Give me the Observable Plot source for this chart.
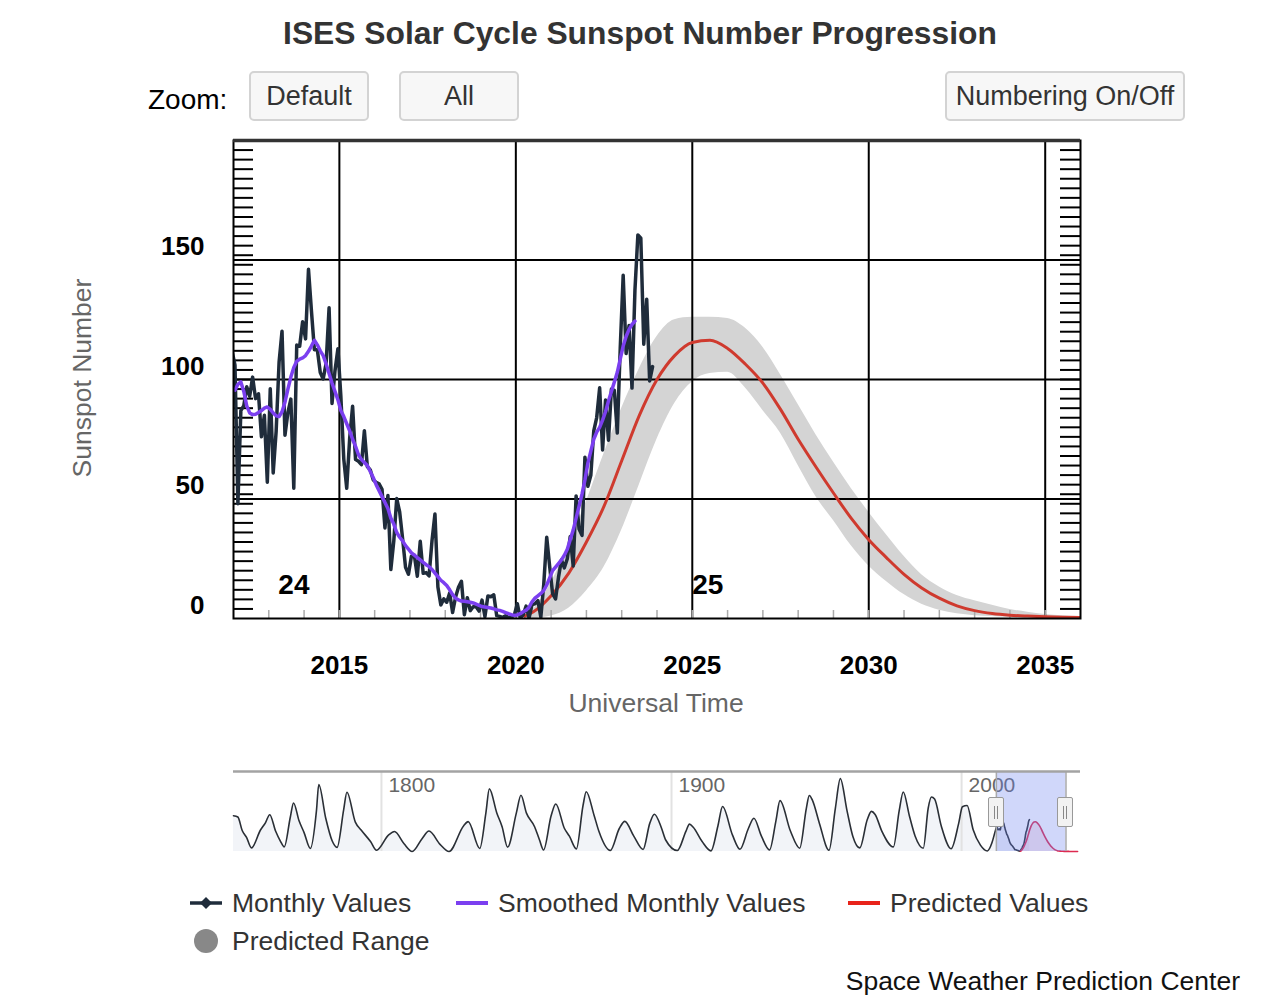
<!DOCTYPE html>
<html><head><meta charset="utf-8">
<script src="https://cdn.jsdelivr.net/npm/d3@7"></script>
<script src="https://cdn.jsdelivr.net/npm/@observablehq/plot@0.6"></script>
<style>
body{margin:0;background:#fff;font-family:"Liberation Sans",Arial,Helvetica,sans-serif;}
#root{position:relative;width:1280px;height:1000px;overflow:hidden;background:#fff;}
.abs{position:absolute;white-space:nowrap;z-index:3;}
.btn{position:absolute;box-sizing:border-box;border:2px solid #d3d3d3;border-radius:5px;background:#f7f7f7;color:#333;font-size:27px;display:flex;align-items:center;justify-content:center;z-index:3;}
.chart{position:absolute;left:0;z-index:1;}
.handle{position:absolute;width:16px;height:30px;box-sizing:border-box;border:1.5px solid #999;border-radius:2px;background:#f2f2f2;z-index:4;}
.handle i{position:absolute;top:8px;width:1px;height:13px;background:#888;}
.leg{position:absolute;font-size:26.5px;color:#333;line-height:32px;white-space:nowrap;z-index:3;}
</style>
</head><body><div id="root"></div>
<script>
// ---------- DATA ----------
// Monthly sunspot numbers, first value = Dec 2011, then Jan 2012 .. Nov 2023
const monthlyStart = 2011 + 11 / 12;
const monthlyValues = [
  112,
  106, 48, 87, 89, 97, 93, 101, 92, 94, 76, 85, 57,
  96.1, 60.9, 78.3, 107.3, 120.2, 76.7, 86.2, 91.8, 54.5, 114.4, 113.9, 124.2,
  117.0, 146.1, 128.7, 112.5, 112.5, 102.9, 100.2, 106.9, 130.0, 90.0, 103.6, 112.9,
  93.0, 66.7, 54.5, 75.3, 88.8, 66.5, 65.8, 64.4, 78.6, 63.6, 62.2, 58.0,
  57.0, 56.4, 54.1, 37.9, 51.5, 20.5, 32.4, 50.2, 44.6, 33.4, 21.4, 18.5,
  26.1, 26.4, 17.7, 32.3, 18.9, 19.2, 17.8, 32.6, 43.7, 13.2, 5.7, 8.2,
  6.8, 10.7, 2.5, 8.9, 13.1, 15.6, 1.6, 8.7, 3.3, 4.9, 4.9, 3.1,
  7.7, 0.8, 9.4, 9.1, 9.9, 1.2, 0.9, 0.5, 1.1, 0.4, 0.5, 1.5,
  6.2, 0.2, 1.5, 5.2, 0.2, 5.8, 6.1, 7.5, 0.6, 14.4, 34.0, 21.8,
  10.4, 8.2, 17.2, 24.5, 21.2, 25.0, 34.3, 22.0, 51.3, 37.4, 34.8, 67.5,
  55.3, 59.9, 78.5, 84.1, 96.5, 70.5, 91.4, 74.6, 96.0, 95.5, 77.6, 113.1,
  143.6, 110.9, 122.6, 96.4, 137.4, 160.5, 159.1, 114.8, 133.6, 99.4, 105.4
];
// Smoothed monthly values, Jan 2012 .. May 2023
const smoothedStart = 2012;
const smoothedValues = [
  95.5, 98, 99, 95, 89, 86, 85.3, 85.5, 86.2, 87, 88, 88.5,
  87.5, 86, 84.8, 84.5, 86.5, 90.5, 96, 101, 105, 107.6, 108.5, 109,
  110, 111.8, 114, 116.4, 114.5, 112, 110, 106.5, 102.5, 98.5, 95, 91.5,
  87, 84.5, 81.5, 78.5, 75, 72, 68.5, 66.5, 65.3, 64, 61.5, 59,
  56, 53.5, 51, 48.5, 46, 42, 39.5, 36, 34, 32.5, 30.5, 29,
  27.5, 26.5, 25.5, 24.5, 23.5, 22.5, 21.7, 20.5, 19, 17.5, 16, 15,
  13.8, 12, 10, 8.5, 7.8, 7.3, 7.2, 7, 6.8, 6.5, 6, 5.5,
  5, 4.8, 4.6, 4.4, 4, 3.6, 3.4, 3, 2.5, 2, 1.6, 1.3,
  1.5, 2, 2.8, 3.5, 4.7, 7, 8.5, 9.5, 10.5, 11.7, 14, 17,
  20, 21.5, 23, 24.5, 26.5, 29, 33, 37, 42, 47, 52, 58,
  65, 70, 75, 78, 80, 83, 86.5, 91, 95, 99, 103, 108.5,
  114, 118, 121, 123, 124.4
];
// Predicted values and range
const predYears = [2020.25, 2020.5, 2021, 2021.5, 2022, 2022.5, 2023, 2023.5, 2024, 2024.5, 2025, 2025.5, 2026, 2026.5, 2027, 2027.5, 2028, 2028.5, 2029, 2029.5, 2030, 2030.5, 2031, 2031.5, 2032, 2032.5, 2033, 2033.5, 2034, 2034.5, 2035, 2035.5, 2036, 2037, 2038, 2040];
const predValues = [1.0, 2.8, 9.5, 19, 32, 47, 66, 85, 100, 110, 115.5, 116.4, 113, 106.5, 98.5, 87.5, 75, 63.5, 52.5, 42, 33, 25.5, 18.5, 12.8, 8.5, 5.3, 3.3, 2.1, 1.4, 1.0, 0.7, 0.5, 0.4, 0.3, 0.2, 0.2];
const predHigh = [1.5, 4, 15, 31, 49, 69, 88, 104.5, 118, 125, 126, 126, 125.5, 121.5, 113.5, 102, 89.5, 77, 65.5, 54.5, 44.5, 35, 26, 18.3, 13.2, 9.6, 7.4, 5.5, 3.8, 2.6, 1.7, 1.1, 0.8, 0.5, 0.3, 0.3];
const predLow = [0, 0, 1, 4.3, 11.5, 21.5, 37, 56, 75, 90, 99, 102.5, 103, 96.5, 87, 77.5, 64, 51, 41, 30.5, 22, 15.5, 10, 6, 3.5, 2, 1.2, 0.8, 0.5, 0.3, 0.2, 0.1, 0.1, 0.1, 0.1, 0.1];
// Axis ticks and labels
const xTickYears = [2015, 2020, 2025, 2030, 2035];
const yTickValues = [0, 50, 100, 150];
const yDomain = [0, 200];
const xDomain = [2012, 2036];
const rulerStep = 4;
const cycleNumbers = ["24", "25"];
const cycleLabelYears = [2013.27, 2025.0];
const cycleLabelValues = [14, 14];
// Navigator: smoothed history (cycle minima / maxima and shoulders) before 2012
const navHistYears = [1749.0,1750.5,1752.0,1753.5,1755.2,1758.3,1760.0,1761.5,1763.5,1765.2,1766.5,1768.6,1769.7,1771.6,1773.3,1775.5,1777.6,1778.4,1780.8,1783.0,1784.7,1787.0,1788.1,1791.0,1793.0,1796.3,1798.3,1802.5,1804.5,1807.8,1810.6,1814.0,1816.4,1820.2,1823.3,1828.3,1829.9,1833.9,1836.0,1837.2,1839.8,1841.6,1843.5,1846.5,1848.1,1850.0,1852.8,1854.5,1855.9,1858.5,1860.1,1863.1,1864.8,1867.2,1869.5,1870.6,1873.3,1875.0,1878.9,1882.0,1883.9,1887.0,1890.2,1892.5,1894.1,1896.6,1898.0,1902.0,1905.0,1906.2,1907.5,1910.5,1913.6,1916.0,1917.6,1921.0,1923.6,1926.5,1928.4,1931.0,1933.8,1936.0,1937.4,1941.0,1944.2,1946.5,1947.5,1948.6,1951.0,1954.3,1956.5,1958.2,1960.5,1962.5,1964.9,1967.5,1968.9,1970.2,1972.5,1976.5,1978.5,1979.9,1982.0,1984.0,1986.8,1988.5,1989.6,1990.7,1993.0,1996.4,1999.0,2000.3,2001.9,2004.0,2006.5,2008.9,2010.5,2011.5];
const navHistValues = [140,135,82,55,14,84,112,144,80,40,18,135,190,120,75,12,160,262,130,42,16,165,232,115,84,38,5,65,78,30,0,50,80,28,0,100,117,12,150,245,150,97,17,150,220,150,97,45,6,140,186,90,60,10,180,234,142,78,4,90,118,60,8,110,146,90,45,4,80,107,95,40,2.5,100,176,65,9,90,130,60,6,120,199,80,13,170,219,200,110,5,170,285,160,60,14,125,157,145,80,18,160,233,140,60,13,170,213,205,100,11,110,175,180,85,25,2.2,35,75];
const navDomain = [1749, 2041];
const navYMax = 313;
const navGridYears = [1800, 1900, 2000];
const selectedRange = [2012, 2036];

// ---------- TABLES ----------
const monthly = monthlyValues.map((v, i) => ({t: monthlyStart + (i + 0.5) / 12, v}));
const smoothed = smoothedValues.map((v, i) => ({t: smoothedStart + (i + 0.5) / 12, v}));
const pred = predYears.map((t, i) => ({t, v: predValues[i], hi: predHigh[i], lo: predLow[i]}));
const rulerTicks = d3.range(rulerStep, yDomain[1], rulerStep);
const yearTicks = d3.range(xDomain[0] + 1, xDomain[1]);
const cycles = cycleNumbers.map((s, i) => ({s, t: cycleLabelYears[i], v: cycleLabelValues[i]}));
const navHist = navHistYears.map((t, i) => ({t, v: navHistValues[i]})).concat(smoothed);

const FONT = "Liberation Sans, Arial, Helvetica, sans-serif";
const root = document.getElementById("root");

// ---------- MAIN CHART ----------
const W = 1280, ML = 233, MR = 200, MT = 140, MB = 82, H = 700;
const plotW = W - ML - MR, plotH = H - MT - MB;
const main = Plot.plot({
  width: W, height: H, marginTop: MT, marginLeft: ML, marginRight: MR, marginBottom: MB,
  x: {domain: xDomain, axis: null},
  y: {domain: yDomain, axis: null},
  style: {background: "transparent", fontFamily: FONT, overflow: "visible"},
  marks: [
    Plot.areaY(pred, {x: "t", y1: "lo", y2: "hi", fill: "#d4d4d4", curve: "monotone-x", clip: true}),
    Plot.ruleX(xTickYears, {stroke: "#000", strokeWidth: 2}),
    Plot.ruleY(yTickValues.filter(d => d > 0), {stroke: "#000", strokeWidth: 2}),
    Plot.tickY(rulerTicks, {y: d => d, stroke: "#000", strokeWidth: 2, insetRight: plotW - 20}),
    Plot.tickY(rulerTicks, {y: d => d, stroke: "#000", strokeWidth: 2, insetLeft: plotW - 20}),
    Plot.tickX(yearTicks, {x: d => d, stroke: "#aaa", strokeWidth: 1.5, insetTop: plotH - 8}),
    Plot.line(pred, {x: "t", y: "v", stroke: "#cf3a2e", strokeWidth: 3, curve: "monotone-x", clip: true}),
    Plot.line(monthly, {x: "t", y: "v", stroke: "#1f2c3b", strokeWidth: 3.5, strokeLinejoin: "round", clip: true}),
    Plot.line(smoothed, {x: "t", y: "v", stroke: "#7b3ff0", strokeWidth: 3.5, strokeLinejoin: "round", clip: true}),
    Plot.frame({stroke: "#000", strokeWidth: 2}),
    Plot.ruleY([yDomain[1]], {stroke: "#333", strokeWidth: 3.5}),
    Plot.text(cycles, {x: "t", y: "v", text: "s", textAnchor: "start", fontSize: 28, fontWeight: "bold", fill: "#000"}),
    Plot.text(yTickValues, {y: d => d, text: d => String(d), frameAnchor: "left", textAnchor: "end", dx: -29, dy: -13, fontSize: 26, fontWeight: "bold", fill: "#000"}),
    Plot.text(xTickYears, {x: d => d, text: d => String(d), frameAnchor: "bottom", dy: 55, fontSize: 26, fontWeight: "bold", fill: "#000"})
  ]
});
main.classList.add("chart");
main.style.top = "0px";
main.style.maxWidth = "none";
root.appendChild(main);

// ---------- NAVIGATOR ----------
const NT = 760;
const nav = Plot.plot({
  width: W, height: 100, marginTop: 11, marginBottom: 9, marginLeft: ML, marginRight: MR,
  x: {domain: navDomain, axis: null},
  y: {domain: [0, navYMax], axis: null},
  style: {background: "transparent", fontFamily: FONT, overflow: "visible"},
  marks: [
    Plot.areaY(navHist, {x: "t", y: "v", fill: "#e6e9f2", fillOpacity: 0.5, curve: "monotone-x"}),
    Plot.ruleX(navGridYears, {stroke: "#e2e2e2", strokeWidth: 2}),
    Plot.text(navGridYears, {x: d => d, text: d => String(d), frameAnchor: "top", lineAnchor: "top", textAnchor: "start", dx: 7, dy: 6, fontSize: 21, fill: "#666"}),
    Plot.areaY(pred, {x: "t", y: "v", fill: "#f5c4d0", fillOpacity: 0.4, curve: "monotone-x"}),
    Plot.line(navHist, {x: "t", y: "v", stroke: "#2a2f36", strokeWidth: 1.6, curve: "monotone-x"}),
    Plot.line(pred, {x: "t", y: "v", stroke: "#dd2a50", strokeWidth: 1.6, curve: "monotone-x"}),
    Plot.rect([selectedRange], {x1: d => d[0], x2: d => d[1], fill: "#6d84f0", fillOpacity: 0.32}),
    Plot.ruleX(selectedRange, {stroke: "#aaa", strokeWidth: 1.5}),
    Plot.ruleY([navYMax], {stroke: "#a3a3a3", strokeWidth: 2.5})
  ]
});
nav.classList.add("chart");
nav.style.top = NT + "px";
nav.style.maxWidth = "none";
root.appendChild(nav);

const xs = nav.scale("x");
for (const yr of selectedRange) {
  const px = xs.apply(yr);
  const h = document.createElement("div");
  h.className = "handle";
  h.style.left = (px - 8) + "px";
  h.style.top = (NT + 37) + "px";
  h.innerHTML = '<i style="left:5px"></i><i style="left:8px"></i>';
  root.appendChild(h);
}

// ---------- TEXT / HTML ----------
function add(html, css, cls = "abs") {
  const d = document.createElement("div");
  d.className = cls;
  d.innerHTML = html;
  Object.assign(d.style, css);
  root.appendChild(d);
  return d;
}
add("ISES Solar Cycle Sunspot Number Progression", {left: "0px", width: "1280px", textAlign: "center", top: "15px", fontSize: "31.8px", lineHeight: "36px", fontWeight: "bold", color: "#333"});
add("Zoom:", {left: "148px", top: "84px", fontSize: "28px", lineHeight: "32px", color: "#000"});
add("Default", {left: "249px", top: "71px", width: "120px", height: "50px"}, "btn");
add("All", {left: "399px", top: "71px", width: "120px", height: "50px"}, "btn");
add("Numbering On/Off", {left: "945px", top: "71px", width: "240px", height: "50px"}, "btn");
add("Sunspot Number", {left: "-68px", top: "362px", width: "300px", height: "32px", lineHeight: "32px", textAlign: "center", fontSize: "26.5px", color: "#666", transform: "rotate(-90deg)"});
add("Universal Time", {left: "456px", top: "687px", width: "400px", textAlign: "center", fontSize: "26.5px", lineHeight: "32px", color: "#666"});

// legend
add('<svg width="36" height="20"><line x1="2" y1="10" x2="34" y2="10" stroke="#1f2c3b" stroke-width="3.5"/><polygon points="18,4 24,10 18,16 12,10" fill="#1f2c3b"/></svg>', {left: "188px", top: "893px"});
add("Monthly Values", {left: "232px", top: "887px"}, "leg");
add('<svg width="36" height="20"><line x1="2" y1="10" x2="34" y2="10" stroke="#7b3ff0" stroke-width="4"/></svg>', {left: "454px", top: "893px"});
add("Smoothed Monthly Values", {left: "498px", top: "887px"}, "leg");
add('<svg width="36" height="20"><line x1="2" y1="10" x2="34" y2="10" stroke="#e8231a" stroke-width="4"/></svg>', {left: "846px", top: "893px"});
add("Predicted Values", {left: "890px", top: "887px"}, "leg");
add('<svg width="28" height="28"><circle cx="14" cy="14" r="12" fill="#888"/></svg>', {left: "192px", top: "927px"});
add("Predicted Range", {left: "232px", top: "925px"}, "leg");
add("Space Weather Prediction Center", {right: "40px", top: "965px", fontSize: "26.5px", lineHeight: "32px", color: "#111"});
</script>
</body></html>
